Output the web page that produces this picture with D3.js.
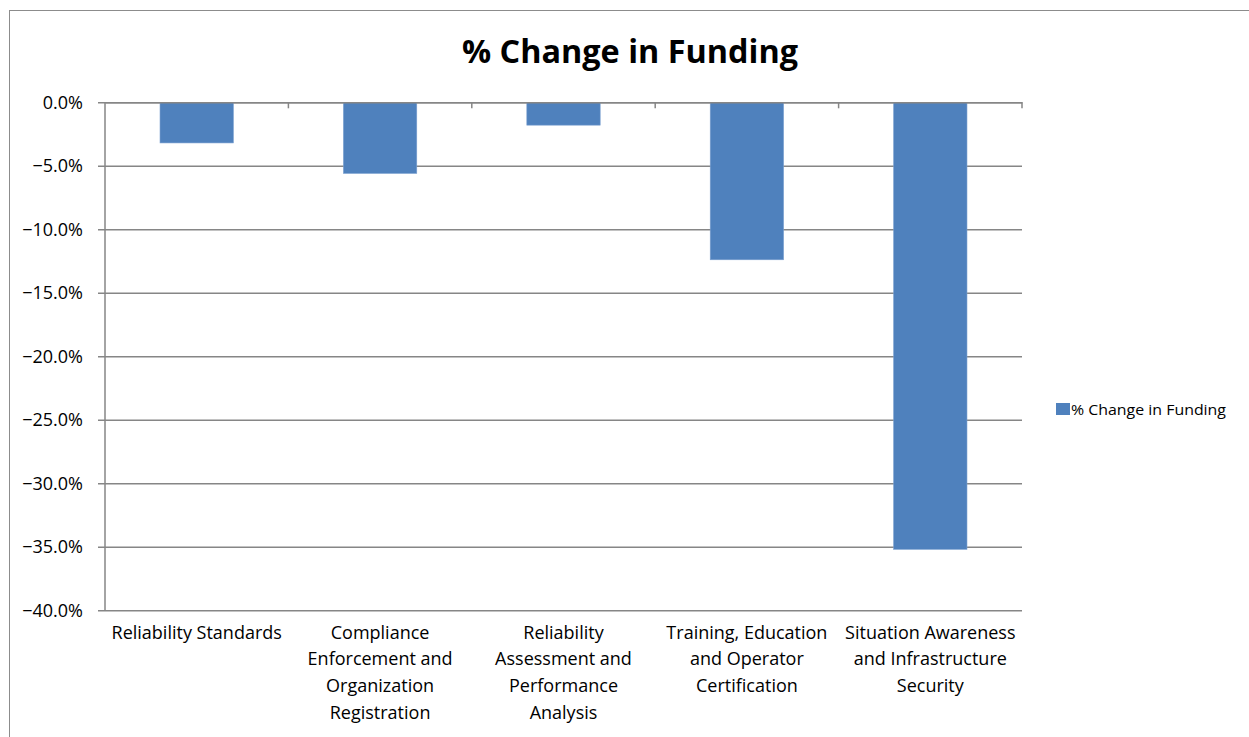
<!DOCTYPE html>
<html>
<head>
<meta charset="utf-8">
<script src="https://cdn.jsdelivr.net/npm/d3@7"></script>
<style>
  html, body { margin: 0; padding: 0; background: #fff; }
  svg { display: block; }
  text { font-family: "Open Sans", "Liberation Sans", sans-serif; fill: #000; }
</style>
</head>
<body>
<svg id="chart" width="1249" height="737"></svg>
<script>
// ---- data ----
const categories = [
  ["Reliability Standards"],
  ["Compliance", "Enforcement and", "Organization", "Registration"],
  ["Reliability", "Assessment and", "Performance", "Analysis"],
  ["Training, Education", "and Operator", "Certification"],
  ["Situation Awareness", "and Infrastructure", "Security"]
];
const values = [-3.2, -5.6, -1.8, -12.4, -35.2];
const yTicks = [0, -5, -10, -15, -20, -25, -30, -35, -40];
const seriesName = "% Change in Funding";
const chartTitle = "% Change in Funding";

// ---- layout ----
const svg = d3.select("#chart");
const plotLeft = 105, plotRight = 1022, plotTop = 102.3, plotBottom = 610.3;
const barColor = "#4F81BD";
const gridColor = "#868686";

// outer chart border
svg.append("rect")
  .attr("x", 9.5).attr("y", 10.5)
  .attr("width", 1260).attr("height", 760)
  .attr("fill", "none").attr("stroke", "#8c8c8c").attr("stroke-width", 1);

const idx = categories.map((d, i) => i);
const x = d3.scaleBand().domain(idx).range([plotLeft, plotRight]).paddingInner(0.6).paddingOuter(0.3);
const xOuter = d3.scaleBand().domain(idx).range([plotLeft, plotRight]);
const y = d3.scaleLinear().domain([-40, 0]).range([plotBottom, plotTop]);

// gridlines + y axis
const yAxis = d3.axisLeft(y).tickValues(yTicks)
  .tickFormat(d => d3.format(".1f")(d) + "%")
  .tickSize(-(plotRight - plotLeft)).tickPadding(16);
const gy = svg.append("g").attr("transform", `translate(${plotLeft},0)`).call(yAxis);
gy.select(".domain").remove();
gy.selectAll(".tick line").attr("stroke", gridColor).attr("stroke-width", 1.5)
  .attr("x1", -7);
gy.selectAll(".tick text").attr("font-size", 18).attr("fill", "#000")
  .attr("font-family", "'Open Sans', sans-serif").attr("x", -22);

// y axis line
svg.append("line").attr("x1", plotLeft).attr("x2", plotLeft).attr("y1", plotTop).attr("y2", plotBottom)
  .attr("stroke", gridColor).attr("stroke-width", 1.5);

// bars
svg.append("g").selectAll("rect").data(values).join("rect")
  .attr("x", (d, i) => x(i))
  .attr("y", d => y(Math.max(0, d)))
  .attr("width", x.bandwidth())
  .attr("height", d => Math.abs(y(d) - y(0)))
  .attr("fill", barColor)
  .attr("stroke", "#7aa0d0").attr("stroke-width", 0.6);

// category axis at y=0 (top) with ticks pointing down
const xAxis = d3.axisBottom(xOuter).tickSize(0).tickFormat("");
const gx = svg.append("g").attr("transform", `translate(0,${y(0)})`).call(xAxis);
gx.select(".domain").attr("stroke", gridColor).attr("stroke-width", 1.5);
const boundaries = d3.range(1, categories.length + 1).map(i => plotLeft + xOuter.step() * i);
gx.selectAll(".cat-tick").data(boundaries).join("line")
  .attr("x1", d => d).attr("x2", d => d).attr("y1", 0).attr("y2", 6)
  .attr("stroke", gridColor).attr("stroke-width", 1.5);

// category labels below plot
const labels = svg.append("g");
categories.forEach((lines, i) => {
  const cx = xOuter(i) + xOuter.bandwidth() / 2;
  const t = labels.append("text").attr("text-anchor", "middle").attr("font-size", 18);
  lines.forEach((ln, j) => {
    t.append("tspan").attr("x", cx).attr("y", 638.5 + j * 26.7).text(ln);
  });
});

// title
svg.append("text").attr("x", 630).attr("y", 63).attr("text-anchor", "middle")
  .attr("font-size", 32).attr("font-weight", "bold")
  .attr("textLength", 336).attr("lengthAdjust", "spacingAndGlyphs")
  .text(chartTitle);

// legend
const lg = svg.append("g");
lg.append("rect").attr("x", 1056).attr("y", 403).attr("width", 14).attr("height", 12).attr("fill", barColor);
lg.append("text").attr("x", 1071).attr("y", 415).attr("font-size", 15)
  .attr("textLength", 155).attr("lengthAdjust", "spacingAndGlyphs")
  .text(seriesName);
</script>
</body>
</html>
